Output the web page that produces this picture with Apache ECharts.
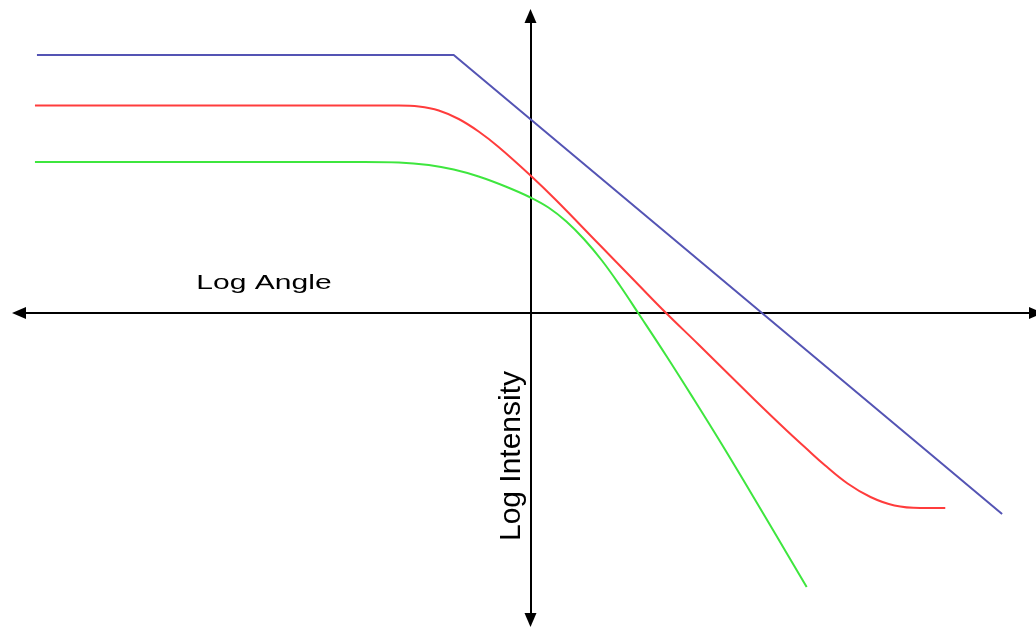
<!DOCTYPE html>
<html>
<head>
<meta charset="utf-8">
<script src="https://cdn.jsdelivr.net/npm/echarts@6/dist/echarts.min.js"></script>
<style>
html,body{margin:0;padding:0;background:#fff;}
#chart{width:1036px;height:627px;}
</style>
</head>
<body>
<div id="chart"></div>
<script>
// Axis titles
var xAxisTitle = 'Log Angle';
var yAxisTitle = 'Log Intensity';

// Series values: [log angle, log intensity] in arbitrary units
var blueLine = [[-9.9, 5.16], [-1.54, 5.16], [9.46, -4.02]];

var redCurve = [
  [-9.94, 4.15], [-6.64, 4.15], [-3.44, 4.15], [-2.64, 4.15], [-2.24, 4.13],
  [-1.84, 4.05], [-1.44, 3.88], [-1.04, 3.63], [-0.64, 3.32], [0, 2.75],
  [0.5, 2.27], [1.36, 1.39], [2.16, 0.57], [2.72, 0.0], [3.36, -0.62],
  [4.5, -1.74], [5.16, -2.37], [5.5, -2.68], [5.9, -3.04], [6.36, -3.41],
  [6.82, -3.68], [7.3, -3.85], [7.82, -3.9], [8.32, -3.9]
];

var greenCurve = [
  [-9.94, 3.02], [-6.64, 3.02], [-3.34, 3.02], [-2.64, 3.01], [-2.04, 2.96],
  [-1.54, 2.87], [-1.04, 2.73], [-0.5, 2.53], [0, 2.31], [0.36, 2.11],
  [0.72, 1.83], [1.08, 1.47], [1.44, 1.04], [1.8, 0.54], [2.16, 0.0],
  [2.72, -0.85], [3.28, -1.73], [3.84, -2.63], [4.4, -3.56], [4.96, -4.5],
  [5.54, -5.48]
];

var xRange = [-10.26, 10.14];
var yRange = [-6.14, 5.94];

var chart = echarts.init(document.getElementById('chart'), null, {renderer: 'canvas'});

var axisCommon = {
  type: 'value',
  axisLine: {
    show: true,
    onZero: true,
    symbol: ['triangle', 'triangle'],
    symbolSize: [12, 14],
    lineStyle: {color: '#000', width: 2}
  },
  axisTick: {show: false},
  axisLabel: {show: false},
  splitLine: {show: false}
};

chart.setOption({
  animation: false,
  backgroundColor: '#fff',
  grid: {left: 19, right: -3, top: 16, bottom: 7, containLabel: false},
  xAxis: Object.assign({}, axisCommon, {min: xRange[0], max: xRange[1]}),
  yAxis: Object.assign({}, axisCommon, {min: yRange[0], max: yRange[1]}),
  graphic: [
    {
      type: 'text', x: 264, y: 283.5, scaleX: 1.43, z: 100,
      style: {text: xAxisTitle, font: '21px "Liberation Sans", Arial, sans-serif', fill: '#000', align: 'center', verticalAlign: 'middle'}
    },
    {
      type: 'text', x: 511.5, y: 456, rotation: Math.PI / 2, z: 100,
      style: {text: yAxisTitle, font: '30px "Liberation Sans", Arial, sans-serif', fill: '#000', align: 'center', verticalAlign: 'middle'}
    }
  ],
  series: [
    {
      type: 'line', data: blueLine, showSymbol: false, smooth: false,
      lineStyle: {color: '#5454b4', width: 2}, z: 3
    },
    {
      type: 'line', data: redCurve, showSymbol: false, smooth: 0.4,
      lineStyle: {color: '#ff3c3c', width: 2}, z: 3
    },
    {
      type: 'line', data: greenCurve, showSymbol: false, smooth: 0.4,
      lineStyle: {color: '#3ee63e', width: 2}, z: 3
    }
  ]
});
</script>
</body>
</html>
